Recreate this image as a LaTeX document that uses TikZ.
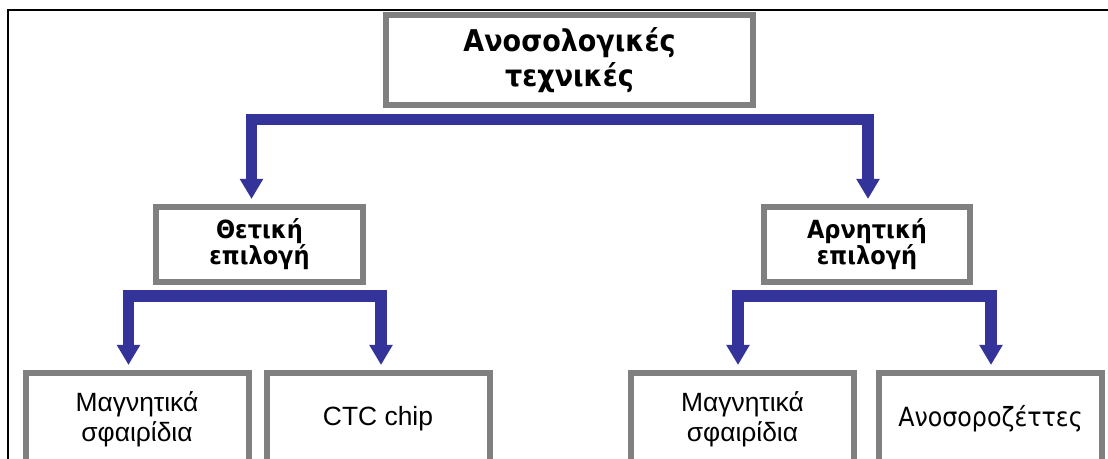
\documentclass[tikz,border=0pt]{standalone}
\usepackage{fontspec}
\setmainfont{Liberation Sans}
\newfontfamily\headfont[FakeStretch=0.9]{DejaVu Sans Bold}
\newfontfamily\leaffont[FakeStretch=0.9]{DejaVu Sans}
\usepackage{tikz}
\usetikzlibrary{positioning,arrows.meta}
\definecolor{framegray}{HTML}{808080}
\definecolor{flowblue}{HTML}{333399}

\begin{document}
\begin{tikzpicture}[x=0.5pt, y=-0.5pt,
    box/.style={draw=framegray, line width=3pt, align=center, inner sep=0pt},
    leaf/.style={box, minimum width=111.5pt, minimum height=46pt, anchor=north,
        font=\fontsize{13.2pt}{14.8pt}\selectfont},
    flow/.style={draw=flowblue, line width=5.75pt, line join=miter,
        {Triangle[width=11pt, length=10pt]}-{Triangle[width=11pt, length=10pt]}}]
    \clip (0,0) rectangle (1108,459);
    \draw[line width=1.25pt] (8,470) |- (1120,10);

    \node[box, minimum width=183.5pt, minimum height=45pt,
        font=\headfont\fontsize{15pt}{17.5pt}\selectfont] (tech) at (569.5,60) {Ανοσολογικές\\τεχνικές};
    \node[box, minimum width=103.5pt, minimum height=37.5pt,
        font=\headfont\fontsize{12.5pt}{13pt}\selectfont] (pos) at (259.5,244.5) {Θετική\\επιλογή};
    \node[box, minimum width=103pt, minimum height=37.5pt,
        font=\headfont\fontsize{12.5pt}{13pt}\selectfont] (neg) at (867,244.5) {Αρνητική\\επιλογή};

    \node[leaf] (mag1) at (137,370) {Μαγνητικά\\σφαιρίδια};
    \node[leaf, anchor=west, right=6pt of mag1] (chip) {CTC chip};
    \node[leaf] (mag2) at (742.5,370) {Μαγνητικά\\σφαιρίδια};
    \node[leaf, anchor=west, right=9.5pt of mag2, font=\leaffont\fontsize{13.2pt}{14.8pt}\selectfont] (ros) {Ανοσοροζέττες};

    % arrows
    \path[flow] ([xshift=-4pt,yshift=2.5pt]pos.north) |- ([yshift=-5.75pt]tech.south)
        -| ([xshift=0.5pt,yshift=2.5pt]neg.north);
    \path[flow] ([xshift=-4.25pt,yshift=2.5pt]mag1.north) |- ([yshift=-5.5pt]pos.south)
        -| ([xshift=1.5pt,yshift=2.5pt]chip.north);
    \path[flow] ([xshift=-2.25pt,yshift=2.5pt]mag2.north) |- ([yshift=-5.5pt]neg.south)
        -| ([xshift=0.25pt,yshift=2.5pt]ros.north);
\end{tikzpicture}
\end{document}
